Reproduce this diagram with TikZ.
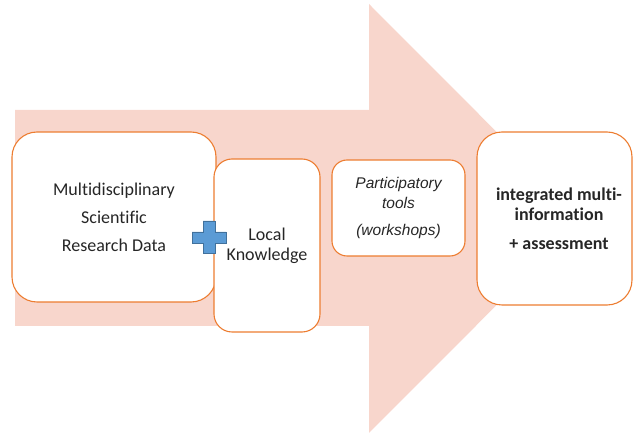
\documentclass[tikz,border=0pt]{standalone}
\usepackage{fontspec}
\setmainfont[RawFeature=-liga]{Carlito}
\newfontfamily\arialfont{Liberation Sans}
\definecolor{arrowpink}{HTML}{F8D6CC}
\definecolor{boxorange}{HTML}{ED7D31}
\definecolor{plusblue}{HTML}{5B9BD5}
\definecolor{plusedge}{HTML}{41719C}

\begin{document}
\begin{tikzpicture}[x=1pt,y=-1pt,
	box/.style={draw=boxorange, line width=1.1pt, fill=white, align=center, text=black!85, inner sep=0pt}]
	\useasboundingbox (0,0) rectangle (633,438);
	% big arrow
	\fill [arrowpink] (15,110) -- (369,110) -- (369,4) -- (583,218.5) -- (369,433) -- (369,326) -- (15,326) -- cycle;
	\node [box, rounded corners=25pt, minimum width=204pt, minimum height=170pt, font=\fontsize{18}{28}\selectfont] (sci) at (114,217)
		{Multidisciplinary\\Scientific\\Research Data};
	\node [box, rounded corners=18pt, minimum width=106pt, minimum height=173pt, font=\fontsize{18}{20}\selectfont] (local) at (267,245.5)
		{Local\\Knowledge};
	\node [box, rounded corners=15pt, minimum width=133pt, minimum height=96pt, font=\arialfont\itshape\fontsize{15.5}{20}\selectfont] (tools) at (398.5,208)
		{Participatory\\tools\\[7pt](workshops)};
	\node [box, rounded corners=25pt, minimum width=155pt, minimum height=173pt, font=\bfseries\fontsize{18}{20}\selectfont] (result) at (554.5,218.5)
		{\hspace{9pt}integrated multi-\\\hspace{9pt}information\\[9pt]\hspace{9pt}+ assessment};
	% plus sign
	\filldraw [fill=plusblue, draw=plusedge, line width=0.4pt] (203,221) -- (215,221) -- (215,232) -- (226,232) -- (226,243) -- (215,243)
		-- (215,253) -- (203,253) -- (203,243) -- (192,243) -- (192,232) -- (203,232) -- cycle;
\end{tikzpicture}
\end{document}
